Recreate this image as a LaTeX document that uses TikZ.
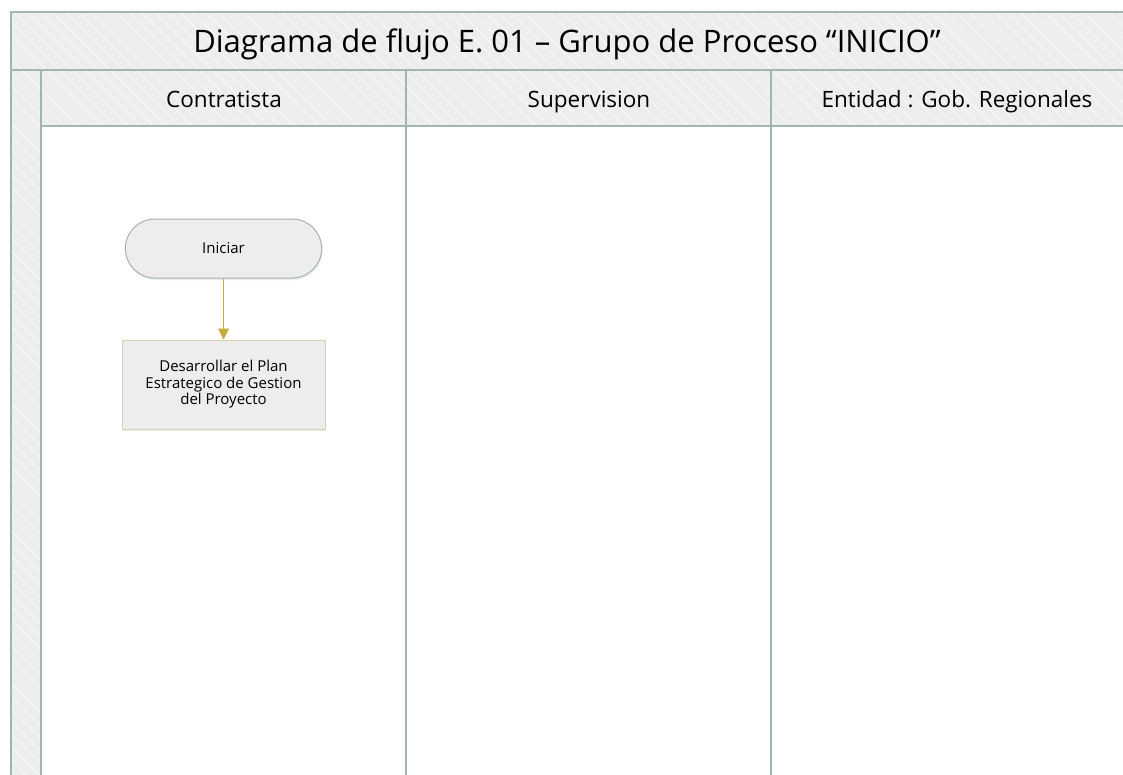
\documentclass[tikz,border=0pt]{standalone}
\usepackage{fontspec}
\setmainfont{Open Sans}
\usetikzlibrary{patterns.meta,arrows.meta,shapes.misc,shadows}
\definecolor{lanegray}{HTML}{EDEDED}
\definecolor{laneline}{HTML}{A3B5AF}
\definecolor{arrowgold}{HTML}{C9AA3E}
\definecolor{boxline}{HTML}{D6CFB0}
\tikzset{
  hatch/.style={pattern={Lines[angle=-45,distance=9pt,line width=1pt]},pattern color=white!60!lanegray},
  bandfill/.style={fill=lanegray},
  laneedge/.style={draw=laneline,line width=1.4pt},
  titletext/.style={anchor=base,inner sep=0pt,font=\fontsize{31}{34}\selectfont},
  headtext/.style={anchor=base,inner sep=0pt,font=\fontsize{22.5}{25}\selectfont},
  termbox/.style={rounded rectangle,draw=laneline,line width=1pt,fill=lanegray,minimum width=203pt,minimum height=59pt,font=\fontsize{15}{17}\selectfont,drop shadow={opacity=0.15,shadow xshift=1pt,shadow yshift=-2pt}},
  procbox/.style={rectangle,draw=boxline,line width=1pt,fill=lanegray,minimum width=203pt,minimum height=89pt,align=center,font=\fontsize{15}{16.5}\selectfont,drop shadow={opacity=0.15,shadow xshift=1pt,shadow yshift=-2pt}},
  flow/.style={draw=arrowgold,line width=0.9pt,-{Triangle[width=11pt,length=11pt]}},
}
\begin{document}
\begin{tikzpicture}[x=1pt,y=-1pt]
\useasboundingbox (0,0) rectangle (1123,774);
\fill[white] (0,0) rectangle (1123,774);
% bands
\fill[bandfill] (11,12) rectangle (1125,70);
\fill[hatch] (11,12) rectangle (1125,70);
\fill[bandfill] (11,70) rectangle (41,776);
\fill[hatch] (11,70) rectangle (41,776);
\fill[bandfill] (41,70) rectangle (1125,126);
\fill[hatch] (41,70) rectangle (1125,126);
% lines
\draw[laneedge] (1125,12) -- (11,12) -- (11,776);
\draw[laneedge] (11,70) -- (1125,70);
\draw[laneedge] (41,126) -- (1125,126);
\draw[laneedge] (41,70) -- (41,776);
\draw[laneedge] (406,70) -- (406,776);
\draw[laneedge] (771,70) -- (771,776);
% texts
\node[titletext] (title) at (567,52) {Diagrama de flujo E. 01 – Grupo de Proceso “INICIO”};
\node[headtext] (l1) at (224,107) {Contratista};
\node[headtext] (l2) at (589,107) {Supervision};
\node[headtext] (l3) at (957,107) {Entidad : Gob. Regionales};
% nodes
\node[termbox] (start) at (223.5,248.5) {Iniciar};
\node[procbox] (plan) at (223.5,384.5) {Desarrollar el Plan\\Estrategico de Gestion\\del Proyecto};
\draw[flow] (start) -- (plan);
\end{tikzpicture}
\end{document}
